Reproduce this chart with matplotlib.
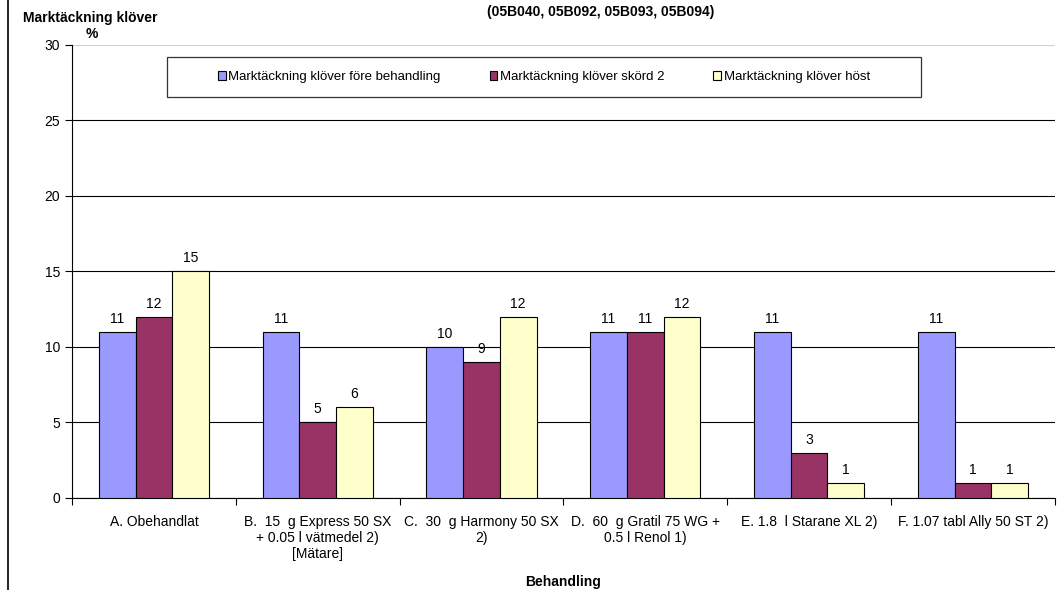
import matplotlib.pyplot as plt
import matplotlib.patches as mpatches
import numpy as np

plt.rcParams['font.family'] = ['Liberation Sans', 'DejaVu Sans']

categories = ["A. Obehandlat",
              "B.  15  g Express 50 SX\n+ 0.05 l vätmedel 2)\n[Mätare]",
              "C.  30  g Harmony 50 SX\n2)",
              "D.  60  g Gratil 75 WG +\n0.5 l Renol 1)",
              "E. 1.8  l Starane XL 2)",
              "F. 1.07 tabl Ally 50 ST 2)"]
series_names = ["Marktäckning klöver före behandling",
                "Marktäckning klöver skörd 2",
                "Marktäckning klöver höst"]
fore = [11, 11, 10, 11, 11, 11]
skord2 = [12, 5, 9, 11, 3, 1]
host = [15, 6, 12, 12, 1, 1]
colors = ["#9999FF", "#993366", "#FFFFCC"]

fig = plt.figure(figsize=(10.59, 5.9), dpi=100)
ax = fig.add_axes([0.068, 0.156, 0.928, 0.768])

x = np.arange(len(categories))
w = 0.224
for i, vals in enumerate([fore, skord2, host]):
    pos = x + (i - 1) * w
    ax.bar(pos, vals, w, color=colors[i], edgecolor='black', linewidth=0.8,
           label=series_names[i], zorder=3)
    for p, v in zip(pos, vals):
        ax.text(p, v + 0.4, str(v), ha='center', va='bottom', fontsize=10)

ax.set_xlim(-0.5, len(categories) - 0.5)
ax.set_ylim(0, 30)
ax.set_yticks(range(0, 31, 5))
ax.yaxis.grid(True, color='black', linewidth=0.8, zorder=0)
ax.get_ygridlines()[-1].set_color('#d0d0d0')
ax.set_xticks(np.arange(-0.5, len(categories), 1))
ax.set_xticklabels([])
ax.set_xticks(x, minor=True)
ax.set_xticklabels(categories, minor=True, fontsize=10)
ax.tick_params(axis='x', which='minor', length=0, pad=12)
ax.tick_params(axis='x', which='major', length=5, direction='out')
ax.tick_params(axis='y', length=5, direction='out', labelsize=10)
for s in ['top', 'right']:
    ax.spines[s].set_visible(False)

ax.set_xlabel("Behandling", fontsize=10, fontweight='bold', labelpad=10)

fig.text(0.085, 0.970, "Marktäckning klöver", ha='center', va='center',
         fontsize=10, fontweight='bold')
fig.text(0.087, 0.942, "%", ha='center', va='center',
         fontsize=10, fontweight='bold')
fig.text(0.567, 0.98, "(05B040, 05B092, 05B093, 05B094)", ha='center', va='center',
         fontsize=10, fontweight='bold')

# legend frame
box = mpatches.Rectangle((0.0966, 0.885), 0.864 - 0.0966, 0.9735 - 0.885,
                         transform=ax.transAxes, facecolor='white',
                         edgecolor='#333333', linewidth=0.9, zorder=5, clip_on=False)
ax.add_patch(box)
leg = ax.legend(loc='center', bbox_to_anchor=((0.0966 + 0.864) / 2, 0.929),
                ncol=3, fontsize=9.5, frameon=False,
                handlelength=0.6, handleheight=0.6, handletextpad=0.2,
                columnspacing=3.7, borderaxespad=0)
leg.set_zorder(6)

fig.add_artist(plt.Line2D([0.0075, 0.0075], [0, 1], color='black', linewidth=1.2))

fig.savefig("out.png", dpi=100)
